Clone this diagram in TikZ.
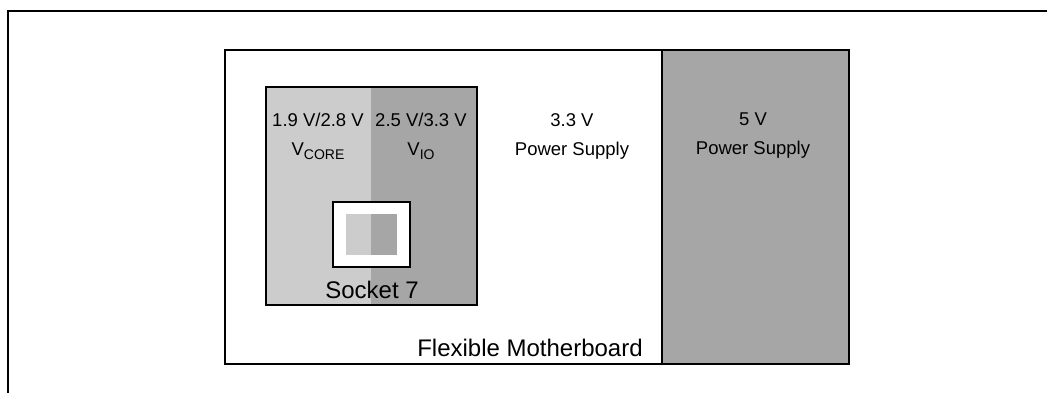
\documentclass[tikz,border=0pt]{standalone}
\usepackage{fontspec}
\setmainfont{Liberation Sans}
\usetikzlibrary{positioning}
\definecolor{lightgrey}{HTML}{CCCCCC}
\definecolor{darkgrey}{HTML}{A6A6A6}
\newcommand{\volt}[1]{\raisebox{-0.22em}{\fontsize{14}{14}\selectfont #1}}

\begin{document}
\begin{tikzpicture}[x=1pt, y=-1pt, line width=2pt]
        \tikzset{label/.style={inner sep=0pt, align=center, font=\fontsize{18.5}{29}\selectfont},
                 biglabel/.style={inner sep=0pt, font=\fontsize{24}{28}\selectfont}}
        \useasboundingbox (0,0) rectangle (1047,393);

        % frame and boards
        \draw (8,393) -- (8,11) -- (1047,11);
        \draw (225,50) rectangle (662,364);
        \filldraw[fill=darkgrey] (662,50) rectangle (849,364);

        % socket area
        \fill[lightgrey] (266,87) rectangle (371,305);
        \fill[darkgrey] (371,87) rectangle (477,305);
        \draw (266,87) rectangle (477,305);
        \filldraw[fill=white] (333,202) rectangle (410,267);
        \fill[lightgrey] (346,214) rectangle (371,255);
        \fill[darkgrey] (371,214) rectangle (397,255);

        \node[label] (core) at (318,136) {1.9 V/2.8 V\\V\volt{CORE}};
        \node[label] (io) at (421,136) {2.5 V/3.3 V\\V\volt{IO}};
        \node[label] (ps33) at (572,136) {3.3 V\\Power Supply};
        \node[label] (ps5) at (753,136) {5 V\\Power Supply};
        \node[biglabel] (sock) at (372,290) {Socket 7};
        \node[biglabel] (mb) at (530,348) {Flexible Motherboard};
    \end{tikzpicture}
\end{document}
